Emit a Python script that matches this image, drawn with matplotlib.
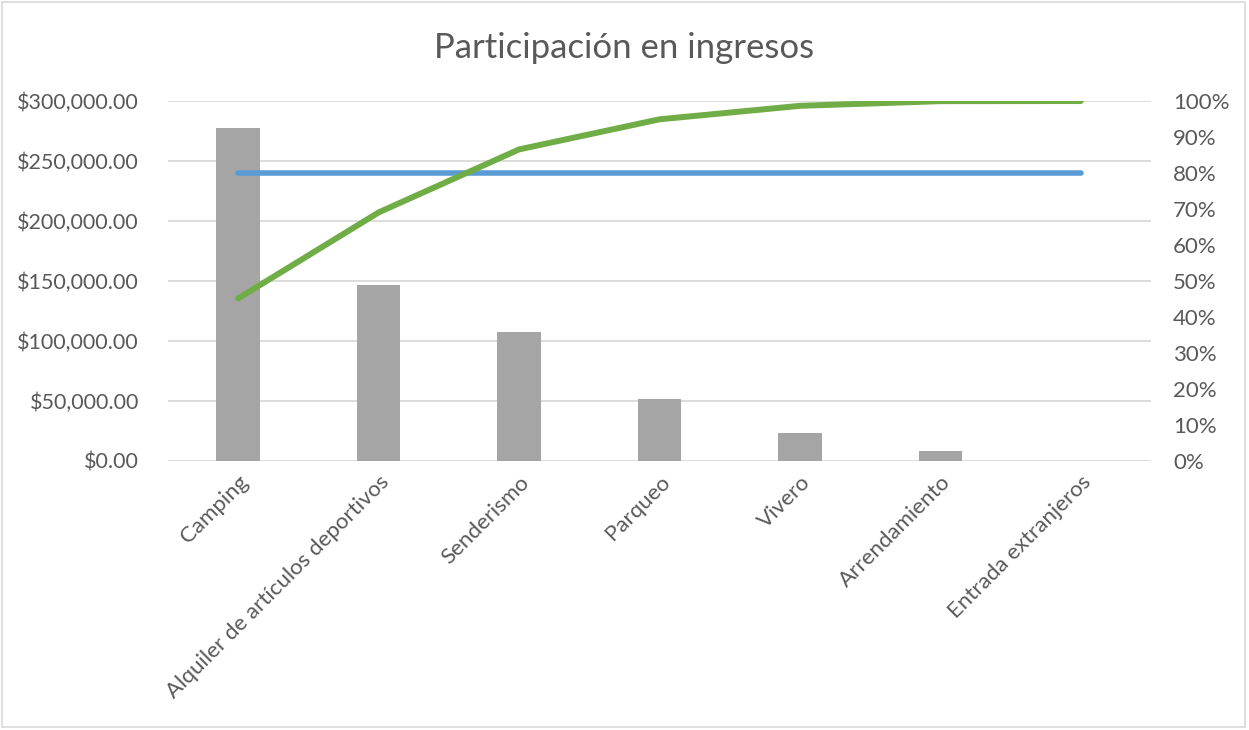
import numpy as np
import matplotlib.pyplot as plt
from matplotlib.ticker import FuncFormatter, MultipleLocator
from matplotlib.patches import Rectangle

# Revenue by activity (sorted descending for the Pareto view)
categories = ["Camping", "Alquiler de artículos deportivos", "Senderismo",
              "Parqueo", "Vivero", "Arrendamiento", "Entrada extranjeros"]
ingresos = [277500, 146700, 107500, 51400, 23000, 8000, 200]
meta = 0.80  # 80 % reference line

cumulative = np.cumsum(ingresos) / np.sum(ingresos)

plt.rcParams['font.family'] = ['Lato', 'DejaVu Sans']
text_color = "#595959"
grid_color = "#D9D9D9"

fig = plt.figure(figsize=(12.49, 7.30), dpi=100)
ax = fig.add_axes([0.1345, 0.3685, 0.7870, 0.4931])
x = np.arange(len(categories))

ax.bar(x, ingresos, width=0.31, color="#A5A5A5", zorder=2)
ax.set_xlim(-0.5, len(categories) - 0.5)
ax.set_ylim(0, 300000)
ax.yaxis.set_major_locator(MultipleLocator(50000))
ax.yaxis.set_major_formatter(FuncFormatter(lambda v, p: f"${v:,.2f}"))
ax.grid(axis='y', color=grid_color, linewidth=1.3, zorder=0)
ax.set_axisbelow(True)
for s in ax.spines.values():
    s.set_visible(False)
ax.tick_params(axis='y', length=0, pad=21, labelsize=15.5, labelcolor=text_color)
ax.tick_params(axis='x', length=0, pad=8, labelsize=16, labelcolor=text_color)
ax.set_xticks(x)
ax.set_xticklabels(categories, rotation=45, ha='right', rotation_mode='anchor')

ax2 = ax.twinx()
ax2.set_ylim(0, 1)
ax2.yaxis.set_major_locator(MultipleLocator(0.1))
ax2.yaxis.set_major_formatter(FuncFormatter(lambda v, p: f"{v*100:.0f}%"))
for s in ax2.spines.values():
    s.set_visible(False)
ax2.tick_params(axis='y', length=0, pad=16, labelsize=16, labelcolor=text_color)

ax2.plot(x, [meta] * len(x), color="#5B9BD5", linewidth=4, solid_capstyle='round', zorder=3)
ax2.plot(x, cumulative, color="#70AD47", linewidth=4.3, solid_capstyle='round',
         solid_joinstyle='round', zorder=4)

fig.text(0.5, 0.9205, "Participación en ingresos", ha='center', va='baseline',
         fontsize=25, color=text_color)

# thin frame around the whole chart
fig.add_artist(Rectangle((0.002, 0.004), 0.995, 0.993, transform=fig.transFigure,
                         fill=False, edgecolor="#D9D9D9", linewidth=1.2))

fig.savefig("out.png", dpi=100)
